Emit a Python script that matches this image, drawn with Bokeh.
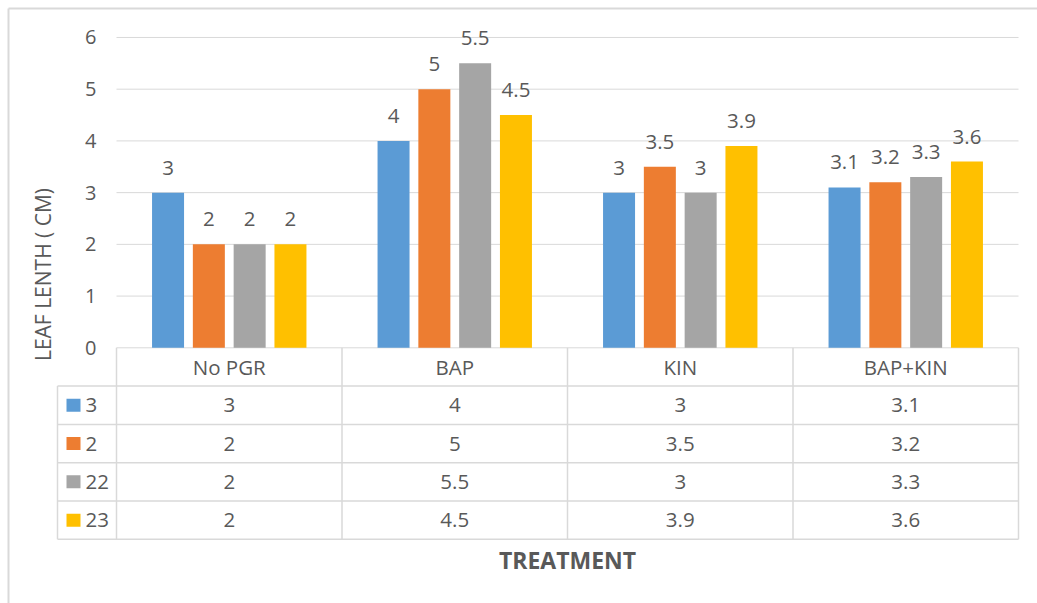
from math import pi

from bokeh.core.properties import value
from bokeh.embed import file_html
from bokeh.models import FixedTicker, LinearAxis, Range1d
from bokeh.plotting import figure
from bokeh.resources import INLINE

# ---- data -------------------------------------------------------------
treatments = ["No PGR", "BAP", "KIN", "BAP+KIN"]
series_names = ["3", "2", "22", "23"]
series_3 = [3, 4, 3, 3.1]
series_2 = [2, 5, 3.5, 3.2]
series_22 = [2, 5.5, 3, 3.3]
series_23 = [2, 4.5, 3.9, 3.6]
series_values = [series_3, series_2, series_22, series_23]
y_ticks = [0, 1, 2, 3, 4, 5, 6]

colors = ["#5B9BD5", "#ED7D31", "#A5A5A5", "#FFC000"]
TEXT = "#595959"
LINE = "#D9D9D9"
FONT = value("Open Sans")

# ---- page geometry (pixels) --------------------------------------------
W, H = 1037, 603
PLOT_L, PLOT_R = 116, 1018      # left/right of the category area
ZERO_Y = 347.3                  # pixel row of value 0
PX_PER_UNIT = 51.72             # pixels per unit of leaf length
CAT_W = (PLOT_R - PLOT_L) / len(treatments)
ROW_PX = 38.3                   # data-table row height
LEG_L = 57                      # left edge of the table's legend column


def xd(px):
    return (px - PLOT_L) / CAT_W


def yd(py):
    return (ZERO_Y - py) / PX_PER_UNIT


n_cat = len(treatments)
n_ser = len(series_values)
pitch = 40.8 / CAT_W
bar_w = 32 / CAT_W
row_h = ROW_PX / PX_PER_UNIT

p = figure(
    width=W, height=H,
    x_range=Range1d(xd(0), xd(W)), y_range=Range1d(yd(H), yd(0)),
    x_axis_type=None, y_axis_type=None,
    output_backend="svg", toolbar_location=None,
    min_border=0, min_border_left=0, min_border_right=0,
    min_border_top=0, min_border_bottom=0,
)
p.outline_line_color = None
p.background_fill_color = "white"
p.border_fill_color = "white"

# chart-area border (top and left edges)
p.segment(x0=[xd(8), xd(8)], y0=[yd(8), yd(8)], x1=[xd(8), xd(W + 5)], y1=[yd(H + 5), yd(8)],
          line_color=LINE, line_width=2)

# horizontal gridlines across the category area
p.segment(x0=[0] * len(y_ticks), x1=[n_cat] * len(y_ticks), y0=y_ticks, y1=y_ticks,
          line_color=LINE, line_width=1)

# clustered bars with value labels
for i, (vals, col) in enumerate(zip(series_values, colors)):
    xs = [j + 0.5 + (i - (n_ser - 1) / 2) * pitch for j in range(n_cat)]
    p.vbar(x=xs, bottom=0, top=vals, width=bar_w, fill_color=col, line_color=None)
    p.text(x=xs, y=vals, text=[f"{v:g}" for v in vals], text_font=FONT,
           text_font_size="20.5px", text_color=TEXT, text_align="center",
           text_baseline="middle", y_offset=-25)

# ---- data table under the plot -----------------------------------------
leg_x = xd(LEG_L)
row_lines_y = [-(k + 1) * row_h for k in range(n_ser + 1)]
p.segment(x0=[leg_x] * len(row_lines_y), x1=[n_cat] * len(row_lines_y),
          y0=row_lines_y, y1=row_lines_y, line_color=LINE, line_width=1.5)
col_lines_x = list(range(n_cat + 1))
p.segment(x0=col_lines_x, x1=col_lines_x, y0=[0] * len(col_lines_x),
          y1=[-(n_ser + 1) * row_h] * len(col_lines_x), line_color=LINE, line_width=1.5)
p.segment(x0=[leg_x], x1=[leg_x], y0=[-row_h], y1=[-(n_ser + 1) * row_h],
          line_color=LINE, line_width=1.5)

# header row: treatment names
p.text(x=[j + 0.5 for j in range(n_cat)], y=[-0.5 * row_h] * n_cat, text=treatments,
       text_font=FONT, text_font_size="20.5px", text_color=TEXT,
       text_align="center", text_baseline="middle")

# one row per series
for i, (name, vals, col) in enumerate(zip(series_names, series_values, colors)):
    yc = -(i + 1.5) * row_h
    p.text(x=[j + 0.5 for j in range(n_cat)], y=[yc] * n_cat,
           text=[f"{v:g}" for v in vals], text_font=FONT, text_font_size="20.5px",
           text_color=TEXT, text_align="center", text_baseline="middle")
    p.rect(x=[xd(73)], y=[yc], width=14, height=13, width_units="screen",
           height_units="screen", fill_color=col, line_color=None)
    p.text(x=[xd(85)], y=[yc], text=[name], text_font=FONT, text_font_size="20.5px",
           text_color=TEXT, text_align="left", text_baseline="middle")

# ---- axis and titles ---------------------------------------------------
yaxis = LinearAxis(
    ticker=FixedTicker(ticks=y_ticks), fixed_location=0,
    axis_line_color=None, major_tick_line_color=None, minor_tick_line_color=None,
    major_tick_out=0, major_tick_in=0, major_label_standoff=20,
    major_label_text_font="Open Sans", major_label_text_font_size="20px",
    major_label_text_color=TEXT,
)
p.add_layout(yaxis, "left")

p.text(x=[xd(42.5)], y=[yd(274)], text=["LEAF LENTH ( CM)"], angle=pi / 2,
       text_font=FONT, text_font_size="21px", text_color=TEXT,
       text_align="center", text_baseline="middle")
p.text(x=[n_cat / 2], y=[yd(559)], text=["TREATMENT"], text_font=FONT,
       text_font_size="23px", text_font_style="bold", text_color=TEXT,
       text_align="center", text_baseline="middle")

open("out.html", "w").write(file_html(p, INLINE))
